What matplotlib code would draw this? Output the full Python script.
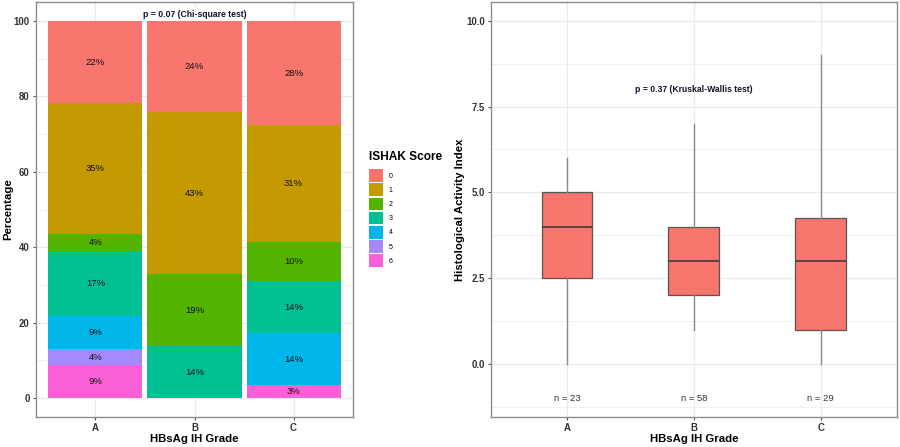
import numpy as np
import matplotlib.pyplot as plt
from matplotlib.patches import Patch

plt.rcParams['font.family'] = ['Liberation Sans', 'DejaVu Sans']

# ---- data: stacked bars (percent of patients per ISHAK score) ----
grades = ['A', 'B', 'C']
ishak_scores = ['0', '1', '2', '3', '4', '5', '6']
pct_A = [21.7, 34.8, 4.3, 17.4, 8.7, 4.3, 8.7]
pct_B = [24.1, 43.1, 19.0, 13.8, 0, 0, 0]
pct_C = [27.6, 31.0, 10.3, 13.8, 13.8, 0, 3.4]
ishak_colors = ['#F8766D', '#C49A00', '#53B400', '#00C094', '#00B6EB', '#A58AFF', '#FB61D7']

# ---- data: box plots of histological activity index ----
hai_low = [0, 1, 0]
hai_q1 = [2.5, 2, 1]
hai_med = [4, 3, 3]
hai_q3 = [5, 4, 4.25]
hai_high = [6, 7, 9]
n_counts = [23, 58, 29]

chi_text = "p = 0.07 (Chi-square test)"
kw_text = "p = 0.37 (Kruskal-Wallis test)"

fig = plt.figure(figsize=(9, 4.47), dpi=100)
ax1 = fig.add_axes([36 / 900, 30 / 447, 317 / 900, 415 / 447])
ax2 = fig.add_axes([491 / 900, 30 / 447, 405.7 / 900, 415 / 447])

border = '#8c8c8c'
grid_c = '#ebebeb'
title_y = (447 - 439 - 30) / 415  # x-title centre, axes fraction


def style_axes(ax):
    for s in ax.spines.values():
        s.set_color(border)
        s.set_linewidth(1.0)
    ax.grid(True, which='major', color=grid_c, linewidth=0.9)
    ax.grid(True, which='minor', axis='y', color=grid_c, linewidth=0.5)
    ax.set_axisbelow(True)
    ax.tick_params(which='major', length=2.5, width=0.8, color='#555555',
                   labelsize=6.9, labelcolor='#333333', pad=2)
    ax.tick_params(which='minor', length=0)
    for lab in ax.get_xticklabels() + ax.get_yticklabels():
        lab.set_fontweight('bold')


# ---- left: stacked percentage bars ----
x = np.arange(1, len(grades) + 1)
table = np.array([pct_A, pct_B, pct_C]).T  # rows = scores, cols = grades
bottom = np.zeros(len(grades))
for i in range(len(ishak_scores) - 1, -1, -1):
    vals = table[i]
    ax1.bar(x, vals, bottom=bottom, width=0.95, color=ishak_colors[i], linewidth=0)
    for xi, v, b in zip(x, vals, bottom):
        if v > 0:
            ax1.text(xi, b + v / 2, f"{v:.0f}%", ha='center', va='center',
                     fontsize=6.8, color='#111111')
    bottom += vals

ax1.set_xlim(0.4, 3.6)
ax1.set_ylim(-5, 105)
ax1.set_xticks(x)
ax1.set_xticklabels(grades)
ax1.set_yticks(np.arange(0, 101, 20))
ax1.set_yticks(np.arange(10, 100, 20), minor=True)
ax1.text(2, 101.6, chi_text, ha='center', va='center', fontsize=6.2,
         fontweight='bold', color='#14102a')
ax1.set_xlabel('HBsAg IH Grade', fontsize=8.2, fontweight='bold', va='center')
ax1.set_ylabel('Percentage', fontsize=8.2, fontweight='bold', va='center')
ax1.xaxis.set_label_coords(0.5, title_y)
ax1.yaxis.set_label_coords((8 - 36) / 317, 0.5)
style_axes(ax1)

handles = [Patch(facecolor=c, edgecolor='none') for c in ishak_colors]
leg = fig.legend(handles, ishak_scores, title='ISHAK Score', loc='upper left',
                 bbox_to_anchor=(366 / 900, 1 - 148 / 447), frameon=False,
                 fontsize=5, handlelength=1.92, handleheight=2.44,
                 labelspacing=0.22, handletextpad=0.85, borderpad=0,
                 alignment='left')
leg.get_title().set_fontsize(8.6)
leg.get_title().set_fontweight('bold')
leg._legend_box.sep = 4.0

# ---- right: box plots ----
stats = []
for i in range(len(grades)):
    stats.append({'whislo': hai_low[i], 'q1': hai_q1[i], 'med': hai_med[i],
                  'q3': hai_q3[i], 'whishi': hai_high[i], 'fliers': []})
ax2.bxp(stats, positions=x, widths=0.4, patch_artist=True, showcaps=False,
        showfliers=False,
        boxprops=dict(facecolor='#F8766D', edgecolor='#555555', linewidth=0.9),
        medianprops=dict(color='#333333', linewidth=1.1),
        whiskerprops=dict(color='#8a8a8a', linewidth=1.0))
for xi, n in zip(x, n_counts):
    ax2.text(xi, -1, f"n = {n}", ha='center', va='center', fontsize=6.8,
             color='#333333')
ax2.text(2, 8, kw_text, ha='center', va='center', fontsize=6.2,
         fontweight='bold', color='#14102a')
ax2.set_xlim(0.4, 3.6)
ax2.set_ylim(-1.55, 10.55)
ax2.set_xticks(x)
ax2.set_xticklabels(grades)
ax2.set_yticks([0, 2.5, 5, 7.5, 10])
ax2.set_yticklabels(['0.0', '2.5', '5.0', '7.5', '10.0'])
ax2.set_yticks([-1.25, 1.25, 3.75, 6.25, 8.75], minor=True)
ax2.set_xlabel('HBsAg IH Grade', fontsize=8.2, fontweight='bold', va='center')
ax2.set_ylabel('Histological Activity Index', fontsize=8.2, fontweight='bold',
               va='center')
ax2.xaxis.set_label_coords(0.5, title_y)
ax2.yaxis.set_label_coords((460 - 491) / 405.7, 0.5)
style_axes(ax2)

fig.savefig('out.png', dpi=100)
